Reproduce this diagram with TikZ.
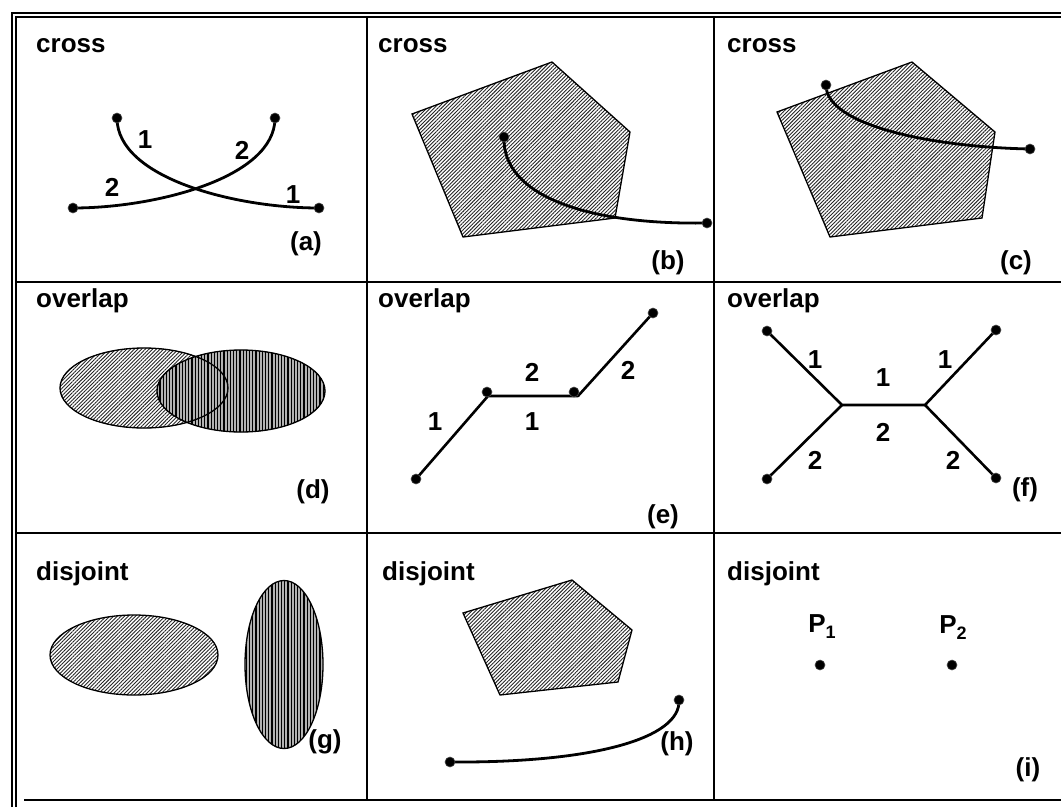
\documentclass[tikz,border=0pt]{standalone}
\usepackage{fontspec}
\setmainfont{Liberation Sans}
\usetikzlibrary{patterns.meta}
\begin{document}
\begin{tikzpicture}[x=1pt,y=-1pt,
  lbl/.style={font=\fontsize{26}{30}\selectfont\bfseries, inner sep=0pt},
  title/.style={lbl, anchor=base west},
  dot/.style={circle, fill=black, draw=black!70, line width=0.6pt, inner sep=0pt, minimum size=10pt},
  curve/.style={line width=2.8pt},
  seg/.style={line width=2.6pt},
  gridline/.style={line width=2pt},
  hatchA/.style={preaction={fill=white}, pattern={Lines[angle=45,distance=2.6pt,line width=0.9pt]}, pattern color=black!85},
  hatchV/.style={preaction={fill=gray!60}, pattern={Lines[angle=90,distance=3.2pt,line width=1.2pt]}, pattern color=black},
  outline/.style={line width=1.3pt}]
\useasboundingbox (0,0) rectangle (1061,807);
% frame
\draw[line width=2.5pt] (12,807) -- (12,13) -- (1061,13);
\draw[line width=2pt] (16,807) -- (16,17) -- (1061,17);
\draw[gridline] (24,800) -- (1061,800);
\draw[gridline] (366.5,17) -- (366.5,800);
\draw[gridline] (714,17) -- (714,800);
\draw[gridline] (16,281.5) -- (1061,281.5);
\draw[gridline] (16,533) -- (1061,533);

% titles
\node[title] (ta) at (36,52) {cross};
\node[title] (tb) at (378,52) {cross};
\node[title] (tc) at (727,52) {cross};
\node[title] (td) at (36,307) {overlap};
\node[title] (te) at (378,307) {overlap};
\node[title] (tf) at (727,307) {overlap};
\node[title] (tg) at (36,580) {disjoint};
\node[title] (th) at (382,580) {disjoint};
\node[title] (ti) at (727,580) {disjoint};

% panel labels
\node[lbl] (la) at (306,244) {(a)};
\node[lbl] (lb) at (668,263) {(b)};
\node[lbl] (lc) at (1016,263) {(c)};
\node[lbl] (ld) at (313,492) {(d)};
\node[lbl] (le) at (663,517) {(e)};
\node[lbl] (lf) at (1025,490) {(f)};
\node[lbl] (lg) at (325,742) {(g)};
\node[lbl] (lh) at (677,744) {(h)};
\node[lbl] (li) at (1028,770) {(i)};

% (a)
\coordinate (a1) at (117,118);
\coordinate (a2) at (319,208);
\coordinate (a3) at (73,208);
\coordinate (a4) at (275,118);
\draw[curve] (a1) .. controls (117,178) and (235,208) .. (a2);
\draw[curve] (a3) .. controls (155,208) and (275,178) .. (a4);
\foreach \p in {a1,a2,a3,a4} \node[dot] at (\p) {};
\node[lbl] (na1) at (145,140) {1};
\node[lbl] (na2) at (242,150) {2};
\node[lbl] (na3) at (112,187) {2};
\node[lbl] (na4) at (293,195) {1};

% (b)
\draw[outline, hatchA] (552,62) -- (630,132) -- (615,218) -- (463,237) -- (412,114) -- cycle;
\coordinate (b1) at (504,137);
\coordinate (b2) at (707,223);
\draw[curve] (b1) .. controls (502,195) and (585,225) .. (b2);
\foreach \p in {b1,b2} \node[dot] at (\p) {};

% (c)
\draw[outline, hatchA] (912,62) -- (995,132) -- (982,218) -- (830,237) -- (777,112) -- cycle;
\coordinate (c1) at (826,85);
\coordinate (c2) at (1030,149);
\draw[curve] (c1) .. controls (826,125) and (930,147) .. (c2);
\foreach \p in {c1,c2} \node[dot] at (\p) {};

% (d)
\draw[hatchA] (144,388) ellipse [x radius=84, y radius=40];
\draw[hatchV] (241,391) ellipse [x radius=84, y radius=41];
\draw[outline] (144,388) ellipse [x radius=84, y radius=40];
\draw[outline] (241,391) ellipse [x radius=84, y radius=41];

% (e)
\coordinate (e1) at (416,479);
\coordinate (e2) at (488,396);
\coordinate (e3) at (578,396);
\coordinate (e4) at (653,313);
\draw[seg, line join=round] (e1) -- (e2) -- (e3) -- (e4);
\node[dot] at (e1) {};
\node[dot] at (487,392) {};
\node[dot] at (574,392) {};
\node[dot] at (e4) {};
\node[lbl] (ne1) at (532,372) {2};
\node[lbl] (ne2) at (628,370) {2};
\node[lbl] (ne3) at (435,422) {1};
\node[lbl] (ne4) at (532,422) {1};

% (f)
\coordinate (f1) at (767,331);
\coordinate (f2) at (996,330);
\coordinate (f3) at (767,479);
\coordinate (f4) at (996,478);
\coordinate (fj1) at (842,405);
\coordinate (fj2) at (925,405);
\draw[seg] (f1) -- (fj1) -- (fj2) -- (f2);
\draw[seg] (f3) -- (fj1);
\draw[seg] (fj2) -- (f4);
\foreach \p in {f1,f2,f3,f4} \node[dot] at (\p) {};
\node[lbl] (nf1) at (815,360) {1};
\node[lbl] (nf2) at (883,378) {1};
\node[lbl] (nf3) at (945,360) {1};
\node[lbl] (nf4) at (883,432) {2};
\node[lbl] (nf5) at (815,460) {2};
\node[lbl] (nf6) at (953,460) {2};

% (g)
\draw[outline, hatchA] (134,655) ellipse [x radius=84, y radius=40];
\draw[outline, hatchV] (284,664.5) ellipse [x radius=39, y radius=84];

% (h)
\draw[outline, hatchA] (572,580) -- (632,630) -- (618,682) -- (500,695) -- (463,613) -- cycle;
\coordinate (h1) at (679,700);
\coordinate (h2) at (450,762);
\draw[curve] (h1) .. controls (681,738) and (595,763) .. (h2);
\foreach \p in {h1,h2} \node[dot] at (\p) {};

% (i)
\node[lbl] (p1) at (822,627) {P\raisebox{-6pt}{\fontsize{18}{18}\selectfont 1}};
\node[lbl] (p2) at (953,628) {P\raisebox{-6pt}{\fontsize{18}{18}\selectfont 2}};
\node[dot] (i1) at (820,665) {};
\node[dot] (i2) at (952,665) {};
\end{tikzpicture}
\end{document}
